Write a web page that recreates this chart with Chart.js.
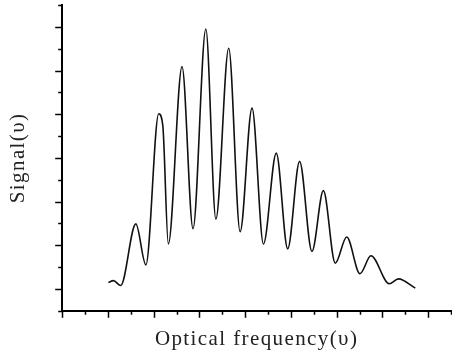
<!DOCTYPE html>
<html>
<head>
<meta charset="utf-8">
<script src="https://cdn.jsdelivr.net/npm/chart.js@4"></script>
<style>
  html, body { margin: 0; padding: 0; background: #fff; }
  canvas { display: block; }
</style>
</head>
<body>
<canvas id="chart-signal" width="452" height="362"></canvas>
<script>
// valeurs (fréquence en unités de graduation majeure)
const frequency = [
  1.01, 1.12, 1.28, 1.61, 1.83, 2.11, 2.2, 2.32, 2.62, 2.86,
  3.14, 3.36, 3.64, 3.89, 4.15, 4.4, 4.68, 4.93, 5.19, 5.46,
  5.71, 5.97, 6.22, 6.51, 6.75, 7.15, 7.35, 7.72,
];
const signal = [
  0.15, 0.19, 0.08, 1.49, 0.55, 4.01, 3.73, 1.03, 5.09, 1.38,
  5.95, 1.6, 5.51, 1.31, 4.14, 1.03, 3.11, 0.92, 2.92, 0.86,
  2.25, 0.59, 1.19, 0.35, 0.76, 0.12, 0.23, 0.02,
];
const xTitle = "Optical frequency(υ)";
const yTitle = "Signal(υ)";

const serif = '"Liberation Serif", "DejaVu Serif", serif';

// espacement des lettres des titres (texte scanné assez large)
const letterSpacing = {
  id: "letterSpacing",
  beforeDraw(chart) {
    chart.ctx.letterSpacing = "1.4px";
  },
  afterDraw(chart) {
    chart.ctx.letterSpacing = "0px";
  },
};

// petites graduations majeures / mineures dessinées hors de la zone
const tickMarks = {
  id: "tickMarks",
  afterDraw(chart) {
    const ctx = chart.ctx;
    const area = chart.chartArea;
    const x = chart.scales.x;
    const y = chart.scales.y;
    ctx.save();
    ctx.strokeStyle = "#000";
    ctx.lineWidth = 1.5;
    ctx.beginPath();
    for (let v = x.min; v <= x.max + 1e-6; v += 0.5) {
      const px = Math.round(x.getPixelForValue(v)) + 0.5;
      const len = Number.isInteger(v) ? 7 : 4;
      ctx.moveTo(px, area.bottom);
      ctx.lineTo(px, area.bottom + len);
    }
    for (let v = y.min; v <= y.max + 1e-6; v += 0.5) {
      const py = Math.round(y.getPixelForValue(v)) + 0.5;
      const len = Number.isInteger(v) ? 7 : 4;
      ctx.moveTo(area.left, py);
      ctx.lineTo(area.left - len, py);
    }
    ctx.stroke();
    ctx.restore();
  },
};

new Chart(document.getElementById("chart-signal"), {
  type: "line",
  data: {
    datasets: [
      {
        label: yTitle,
        data: frequency.map((f, i) => ({ x: f, y: signal[i] })),
        borderColor: "#111",
        borderWidth: 1.6,
        pointRadius: 0,
        cubicInterpolationMode: "monotone",
        fill: false,
      },
    ],
  },
  options: {
    responsive: false,
    animation: false,
    layout: { padding: { top: 5, right: 1, bottom: 6, left: 0 } },
    scales: {
      x: {
        type: "linear",
        min: 0,
        max: 8.5,
        grid: { display: false, drawTicks: false },
        border: { display: true, color: "#000", width: 2 },
        ticks: { display: false },
        title: {
          display: true,
          text: xTitle,
          color: "#222",
          font: { family: serif, size: 21 },
          padding: { top: 16, bottom: 4 },
        },
      },
      y: {
        type: "linear",
        min: -0.5,
        max: 6.5,
        grid: { display: false, drawTicks: false },
        border: { display: true, color: "#000", width: 2 },
        ticks: { display: false },
        title: {
          display: true,
          text: yTitle,
          color: "#222",
          font: { family: serif, size: 21 },
          padding: { top: 6, bottom: 31 },
        },
      },
    },
    plugins: {
      legend: { display: false },
      tooltip: { enabled: false },
    },
  },
  plugins: [letterSpacing, tickMarks],
});
</script>
</body>
</html>
